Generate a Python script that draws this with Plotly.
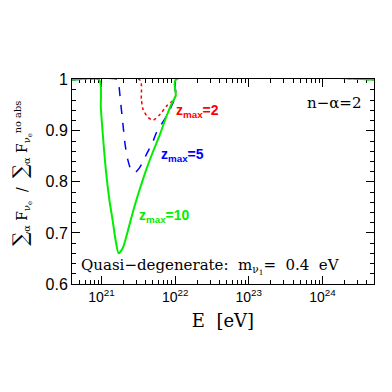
import plotly.graph_objects as go

# ---- data ----
E_green = [4e20, 9.3e20, 9.8e20, 1.06e21, 1.15e21, 1.28e21, 1.42e21, 1.58e21, 1.71e21,
           1.95e21, 2.28e21, 2.72e21, 3.3e21, 4.08e21, 5.03e21, 6.22e21, 7.7e21, 9.1e21,
           1.02e22, 1.02e22, 5e24]
R_green = [1.0, 1.0, 0.945, 0.88, 0.822, 0.765, 0.724, 0.68, 0.66,
           0.671, 0.704, 0.745, 0.785, 0.825, 0.86, 0.893, 0.93, 0.955,
           0.969, 1.0, 1.0]

E_blue = [4e20, 1.7e21, 1.74e21, 1.83e21, 1.95e21, 2.1e21, 2.28e21, 2.5e21, 2.82e21,
          3.3e21, 4.08e21, 5.03e21, 5.6e21, 7.7e21, 1.02e22, 1.02e22, 5e24]
R_blue = [1.0, 1.0, 0.985, 0.953, 0.915, 0.872, 0.843, 0.825, 0.818,
          0.828, 0.854, 0.88, 0.897, 0.93, 0.969, 1.0, 1.0]

E_red = [4e20, 3.3e21, 3.48e21, 3.67e21, 4.3e21, 5.03e21, 6.22e21, 7.7e21, 9.1e21,
         1.02e22, 1.02e22, 5e24]
R_red = [1.0, 1.0, 0.962, 0.942, 0.926, 0.921, 0.932, 0.949, 0.958,
         0.969, 1.0, 1.0]

x_ticks = [1e21, 1e22, 1e23, 1e24]
x_labels = ["10<sup>21</sup>", "10<sup>22</sup>", "10<sup>23</sup>", "10<sup>24</sup>"]
y_ticks = [0.6, 0.7, 0.8, 0.9, 1.0]
y_labels = ["0.6", "0.7", "0.8", "0.9", "1"]

fig = go.Figure()
fig.add_trace(go.Scatter(x=E_red, y=R_red, mode="lines",
                         line=dict(color="red", width=1.5, dash="dot", shape="spline", smoothing=0.7)))
fig.add_trace(go.Scatter(x=E_blue, y=R_blue, mode="lines",
                         line=dict(color="blue", width=1.5, dash="dash", shape="spline", smoothing=0.7)))
fig.add_trace(go.Scatter(x=E_green, y=R_green, mode="lines",
                         line=dict(color="#00ee00", width=2, shape="spline", smoothing=0.7)))

sans = "Liberation Sans"
serif = "DejaVu Serif"

fig.update_layout(
    width=392, height=392,
    margin=dict(l=64, r=26, t=71, b=116),
    paper_bgcolor="white", plot_bgcolor="white",
    showlegend=False,
    font=dict(family=sans, color="black"),
    xaxis=dict(type="log", range=[20.6, 24.7], automargin=False, layer="below traces",
               tickvals=x_ticks, ticktext=x_labels,
               ticks="inside", ticklen=8, tickwidth=1, tickcolor="black",
               minor=dict(ticks="inside", ticklen=4, tickwidth=1, tickcolor="black", dtick="D1"),
               showline=True, linecolor="black", linewidth=1, mirror="allticks",
               showgrid=False, zeroline=False,
               tickfont=dict(family=sans, size=14),
               title=dict(text="E  [eV]", font=dict(family=serif, size=18), standoff=10)),
    yaxis=dict(range=[0.6, 1.0015], tickvals=y_ticks, ticktext=y_labels, automargin=False,
               layer="below traces",
               ticks="inside", ticklen=8, tickwidth=1, tickcolor="black",
               minor=dict(ticks="inside", ticklen=4, tickwidth=1, tickcolor="black", dtick=0.02),
               showline=True, linecolor="black", linewidth=1, mirror="allticks",
               showgrid=False, zeroline=False,
               tickfont=dict(family=sans, size=16)),
)

def px2paper(px, py):
    return (px - 72) / 302, (284 - py) / 205

big = "<span style='font-size:20px'>∑</span>"
ann = []

def add(px, py, text, font, xanchor="center", **kw):
    x, y = px2paper(px, py)
    ann.append(dict(x=x, y=y, xref="paper", yref="paper", xanchor=xanchor, yanchor="middle",
                    showarrow=False, text=text, font=font, **kw))

add(21, 174, big + "<sub>α</sub> F<sub>ν<sub>e</sub></sub>  /  " + big
    + "<sub>α</sub> F<sub>ν<sub>e</sub></sub><sup>no abs</sup>",
    dict(family=serif, size=14), textangle=-90)
add(363, 103, "n−α=2", dict(family=serif, size=15), xanchor="right")
add(174, 111, "<b>z<sub>max</sub>=2</b>", dict(family=sans, size=14, color="red"), xanchor="left")
add(159, 155, "<b>z<sub>max</sub>=5</b>", dict(family=sans, size=14, color="blue"), xanchor="left")
add(137, 216, "<b>z<sub>max</sub>=10</b>", dict(family=sans, size=14, color="#00ee00"), xanchor="left")
add(79, 266, "Quasi−degenerate:  m<sub>ν<sub>1</sub></sub>=  0.4  eV",
    dict(family=serif, size=15), xanchor="left")
fig.update_layout(annotations=ann)

fig.write_html("out.html")
